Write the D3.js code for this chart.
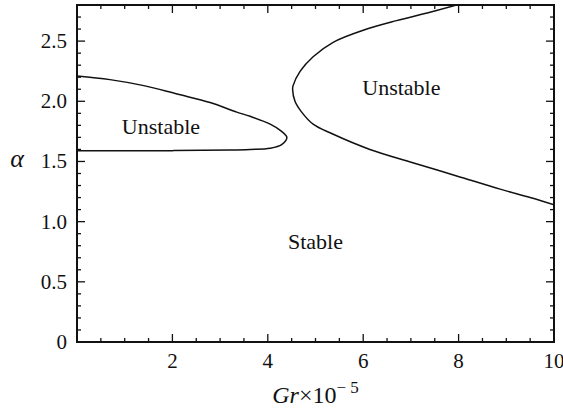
<!DOCTYPE html>
<html>
<head>
<meta charset="utf-8">
<title>Stability map</title>
<script src="https://d3js.org/d3.v7.min.js"></script>
<style>
  body { margin: 0; background: #fff; }
  text { font-family: "Liberation Serif", "Times New Roman", serif; fill: #111; }
</style>
</head>
<body>
<div id="chart"></div>
<script>
// closed lobe on the left (upper branch then back along lower branch)
const lobeGr    = [0, 0.69, 1.40, 2.10, 2.79, 3.35, 3.63, 4.05, 4.29, 4.40, 4.29, 4.05, 3.63, 3.21, 2.0, 0];
const lobeAlpha = [2.21, 2.18, 2.13, 2.06, 1.99, 1.91, 1.875, 1.81, 1.75, 1.70, 1.64, 1.61, 1.60, 1.595, 1.59, 1.59];

// C-shaped neutral curve on the right (top edge -> nose -> right edge)
const branchGr    = [8.05, 7.40, 6.70, 6.00, 5.37, 4.95, 4.68, 4.53, 4.52, 4.57, 4.71, 4.95, 5.35, 6.14, 7.04, 7.96, 8.87, 9.50, 10.0];
const branchAlpha = [2.81, 2.74, 2.67, 2.59, 2.49, 2.37, 2.25, 2.13, 2.10, 2.00, 1.91, 1.81, 1.73, 1.60, 1.49, 1.38, 1.27, 1.20, 1.14];

const xTicks = [2, 4, 6, 8, 10];
const yTicks = [0, 0.5, 1.0, 1.5, 2.0, 2.5];
const yTickLabels = ["0", "0.5", "1.0", "1.5", "2.0", "2.5"];

const regionNames = ["Unstable", "Unstable", "Stable"];
const regionGr    = [1.76, 6.8, 5.0];
const regionAlpha = [1.725, 2.05, 0.77];

const width = 563, height = 412;
const margin = { top: 5, right: 9, bottom: 70, left: 77 };

const x = d3.scaleLinear().domain([0, 10]).range([margin.left, width - margin.right]);
const y = d3.scaleLinear().domain([0, 2.8]).range([height - margin.bottom, margin.top]);

const svg = d3.select("#chart").append("svg")
    .attr("width", width)
    .attr("height", height);

svg.append("clipPath").attr("id", "plot")
  .append("rect")
    .attr("x", x(0)).attr("y", y(2.8))
    .attr("width", x(10) - x(0)).attr("height", y(0) - y(2.8));

// inward ticks on all four sides
const xMinor = d3.range(0.5, 10, 0.5);
const yMinor = d3.range(0.1, 2.8, 0.1).map(v => +v.toFixed(1));

function isMajorX(v) { return Math.abs(v / 2 - Math.round(v / 2)) < 1e-6; }
function isMajorY(v) { return Math.abs(v / 0.5 - Math.round(v / 0.5)) < 1e-6; }

const ticks = svg.append("g").attr("stroke", "#111").attr("stroke-width", 1.3);
xMinor.forEach(v => {
  const len = isMajorX(v) ? 8 : 4;
  ticks.append("line").attr("x1", x(v)).attr("x2", x(v)).attr("y1", y(0)).attr("y2", y(0) - len);
  ticks.append("line").attr("x1", x(v)).attr("x2", x(v)).attr("y1", y(2.8)).attr("y2", y(2.8) + len);
});
yMinor.forEach(v => {
  const len = isMajorY(v) ? 8 : 4;
  ticks.append("line").attr("y1", y(v)).attr("y2", y(v)).attr("x1", x(0)).attr("x2", x(0) + len);
  ticks.append("line").attr("y1", y(v)).attr("y2", y(v)).attr("x1", x(10)).attr("x2", x(10) - len);
});

// frame
svg.append("rect")
    .attr("x", x(0)).attr("y", y(2.8))
    .attr("width", x(10) - x(0)).attr("height", y(0) - y(2.8))
    .attr("fill", "none").attr("stroke", "#111").attr("stroke-width", 2);

// tick labels
svg.append("g").selectAll("text").data(xTicks).join("text")
    .attr("x", d => x(d)).attr("y", y(0) + 26)
    .attr("text-anchor", "middle")
    .style("font-size", "21px")
    .text(d => d);

svg.append("g").selectAll("text").data(yTicks).join("text")
    .attr("x", x(0) - 10).attr("y", d => y(d) + 7)
    .attr("text-anchor", "end")
    .style("font-size", "21px")
    .text((d, i) => yTickLabels[i]);

// curves
const line = d3.line()
    .x(d => x(d[0])).y(d => y(d[1]))
    .curve(d3.curveCatmullRom.alpha(0.5));

const curves = svg.append("g").attr("clip-path", "url(#plot)")
    .attr("fill", "none").attr("stroke", "#111").attr("stroke-width", 1.5);
curves.append("path").attr("d", line(d3.zip(lobeGr, lobeAlpha)));
curves.append("path").attr("d", line(d3.zip(branchGr, branchAlpha)));

// region labels
svg.append("g").selectAll("text").data(regionNames).join("text")
    .attr("x", (d, i) => x(regionGr[i])).attr("y", (d, i) => y(regionAlpha[i]))
    .attr("text-anchor", "middle")
    .style("font-size", "22px")
    .text(d => d);

// axis titles
const xl = svg.append("text")
    .attr("x", x(5)).attr("y", 403)
    .attr("text-anchor", "middle")
    .style("font-size", "24px");
xl.append("tspan").style("font-style", "italic").text("Gr");
xl.append("tspan").text("\u00d710");
xl.append("tspan").attr("dy", -10).style("font-size", "17px").text("\u2212 5");

svg.append("text")
    .attr("x", 17).attr("y", y(1.5) + 6)
    .attr("text-anchor", "middle")
    .style("font-size", "26px")
    .style("font-style", "italic")
    .text("\u03b1");
</script>
</body>
</html>
